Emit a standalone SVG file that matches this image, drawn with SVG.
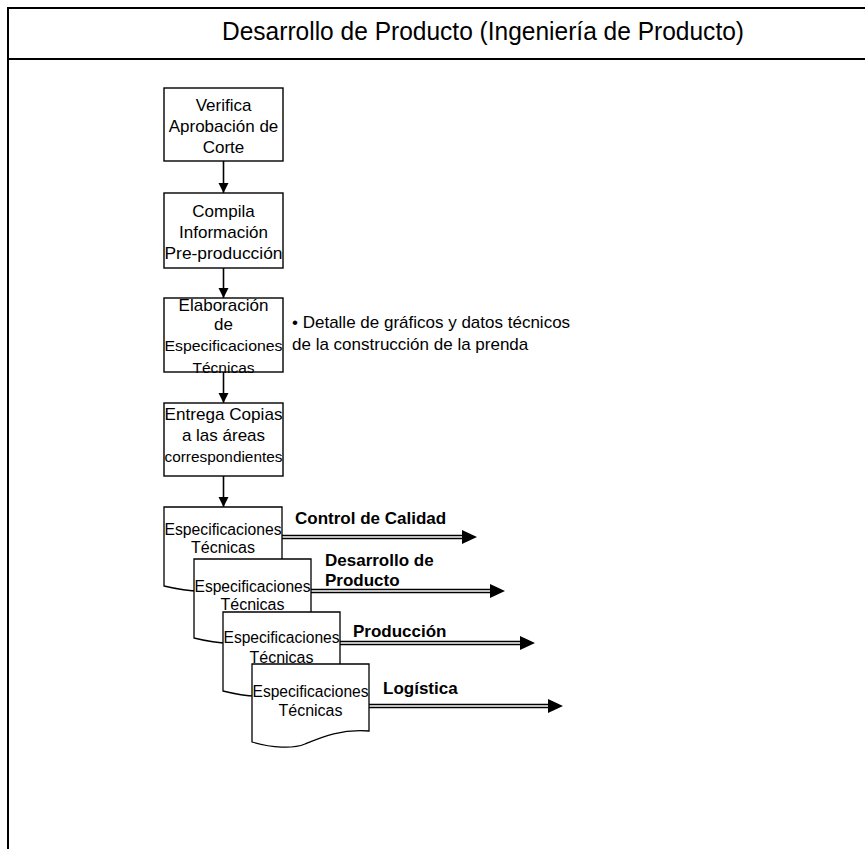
<svg xmlns="http://www.w3.org/2000/svg" width="865" height="849" viewBox="0 0 865 849">
  <style>
    .frame { fill: none; stroke: #000; stroke-width: 2; }
    .box { fill: #fff; stroke: #000; stroke-width: 1.4; }
    .doc { fill: #fff; stroke: #000; stroke-width: 1.3; }
    .t { font-family: "Liberation Sans", Arial, sans-serif; font-size: 17px; fill: #000; text-anchor: middle; }
    .s { font-size: 15.5px; }
    .d { font-family: "Liberation Sans", Arial, sans-serif; font-size: 16px; fill: #000; text-anchor: middle; }
    .note { font-family: "Liberation Sans", Arial, sans-serif; font-size: 17px; fill: #000; }
    .lbl { font-family: "Liberation Sans", Arial, sans-serif; font-size: 17px; font-weight: bold; fill: #000; }
    .title { font-family: "Liberation Sans", Arial, sans-serif; font-size: 25px; fill: #000; text-anchor: middle; }
    .flow { stroke: #000; stroke-width: 1.6; fill: none; }
    .rail { stroke: #000; stroke-width: 1.3; fill: none; }
  </style>
  <defs>
    <marker id="arr" viewBox="0 0 10 10" refX="10" refY="5" markerWidth="6.5" markerHeight="6.5" markerUnits="strokeWidth" orient="auto">
      <path d="M0,0 L10,5 L0,10 Z" fill="#000"/>
    </marker>
  </defs>

  <rect width="865" height="849" fill="#fff"/>

  <!-- outer frame and title band -->
  <g id="frame">
    <path class="frame" d="M8,849 V8 H865"/>
    <path class="frame" d="M8,59 H865"/>
    <text class="title" x="483" y="40" textLength="522" lengthAdjust="spacingAndGlyphs">Desarrollo de Producto (Ingeniería de Producto)</text>
  </g>

  <!-- connectors -->
  <g id="connectors">
    <line class="flow" x1="223.5" y1="161" x2="223.5" y2="193" marker-end="url(#arr)"/>
    <line class="flow" x1="223.5" y1="268" x2="223.5" y2="298" marker-end="url(#arr)"/>
    <line class="flow" x1="223.5" y1="372" x2="223.5" y2="403" marker-end="url(#arr)"/>
    <line class="flow" x1="223.5" y1="476" x2="223.5" y2="507" marker-end="url(#arr)"/>
  </g>

  <!-- process steps -->
  <g id="step-verifica">
    <rect class="box" x="164" y="88" width="119" height="73"/>
    <text class="t" x="223.5" y="111">Verifica</text>
    <text class="t" x="223.5" y="132">Aprobación de</text>
    <text class="t" x="223.5" y="153">Corte</text>
  </g>
  <g id="step-compila">
    <rect class="box" x="164" y="193" width="119" height="75"/>
    <text class="t" x="223.5" y="217">Compila</text>
    <text class="t" x="223.5" y="238">Información</text>
    <text class="t" x="223.5" y="259" textLength="118" lengthAdjust="spacingAndGlyphs">Pre-producción</text>
  </g>
  <g id="step-elaboracion">
    <rect class="box" x="164" y="298" width="119" height="74"/>
    <text class="t" x="223.5" y="311">Elaboración</text>
    <text class="t" x="223.5" y="330">de</text>
    <text class="t s" x="223.5" y="351" textLength="118" lengthAdjust="spacingAndGlyphs">Especificaciones</text>
    <text class="t s" x="223.5" y="373">Técnicas</text>
  </g>
  <g id="step-entrega">
    <rect class="box" x="164" y="403" width="119" height="73"/>
    <text class="t" x="223.5" y="420" textLength="118" lengthAdjust="spacingAndGlyphs">Entrega Copias</text>
    <text class="t" x="223.5" y="441">a las áreas</text>
    <text class="t s" x="223.5" y="462" textLength="118" lengthAdjust="spacingAndGlyphs">correspondientes</text>
  </g>

  <g id="note">
    <text class="note" x="292" y="328">• Detalle de gráficos y datos técnicos</text>
    <text class="note" x="292" y="350">de la construcción de la prenda</text>
  </g>

  <!-- distributed copies -->
  <g id="doc-calidad">
    <path class="doc" d="M164,507 H282 V575 C253,573 235,581 218,588 C206,593 185,591 164,586 Z"/>
    <text class="d" x="223" y="535" textLength="117" lengthAdjust="spacingAndGlyphs">Especificaciones</text>
    <text class="d" x="223" y="553">Técnicas</text>
    <path class="rail" d="M282,535.5 H466 M282,538.5 H466"/>
    <path d="M462,530 L477,537 L462,544 Z" fill="#000"/>
    <text class="lbl" x="295" y="524">Control de Calidad</text>
  </g>
  <g id="doc-desarrollo">
    <path class="doc" d="M194,559 H311 V627 C282,625 264,633 247,640 C235,645 214,643 194,638 Z"/>
    <text class="d" x="252.5" y="592" textLength="116" lengthAdjust="spacingAndGlyphs">Especificaciones</text>
    <text class="d" x="252.5" y="610">Técnicas</text>
    <path class="rail" d="M311,589.5 H494 M311,592.5 H494"/>
    <path d="M490,584 L505,591 L490,598 Z" fill="#000"/>
    <text class="lbl" x="325" y="566">Desarrollo de</text>
    <text class="lbl" x="325" y="586">Producto</text>
  </g>
  <g id="doc-produccion">
    <path class="doc" d="M223,612 H340 V680 C311,678 293,686 276,693 C264,698 243,696 223,691 Z"/>
    <text class="d" x="281.5" y="643" textLength="116" lengthAdjust="spacingAndGlyphs">Especificaciones</text>
    <text class="d" x="281.5" y="663">Técnicas</text>
    <path class="rail" d="M340,641.5 H524 M340,644.5 H524"/>
    <path d="M520,636 L535,643 L520,650 Z" fill="#000"/>
    <text class="lbl" x="353" y="637">Producción</text>
  </g>
  <g id="doc-logistica">
    <path class="doc" d="M252,664 H369 V731 C340,729 322,737 305,744 C293,749 272,748 252,742 Z"/>
    <text class="d" x="310.5" y="697" textLength="116" lengthAdjust="spacingAndGlyphs">Especificaciones</text>
    <text class="d" x="310.5" y="716">Técnicas</text>
    <path class="rail" d="M369,704.5 H552 M369,707.5 H552"/>
    <path d="M548,699 L563,706 L548,713 Z" fill="#000"/>
    <text class="lbl" x="383" y="694">Logística</text>
  </g>
</svg>
